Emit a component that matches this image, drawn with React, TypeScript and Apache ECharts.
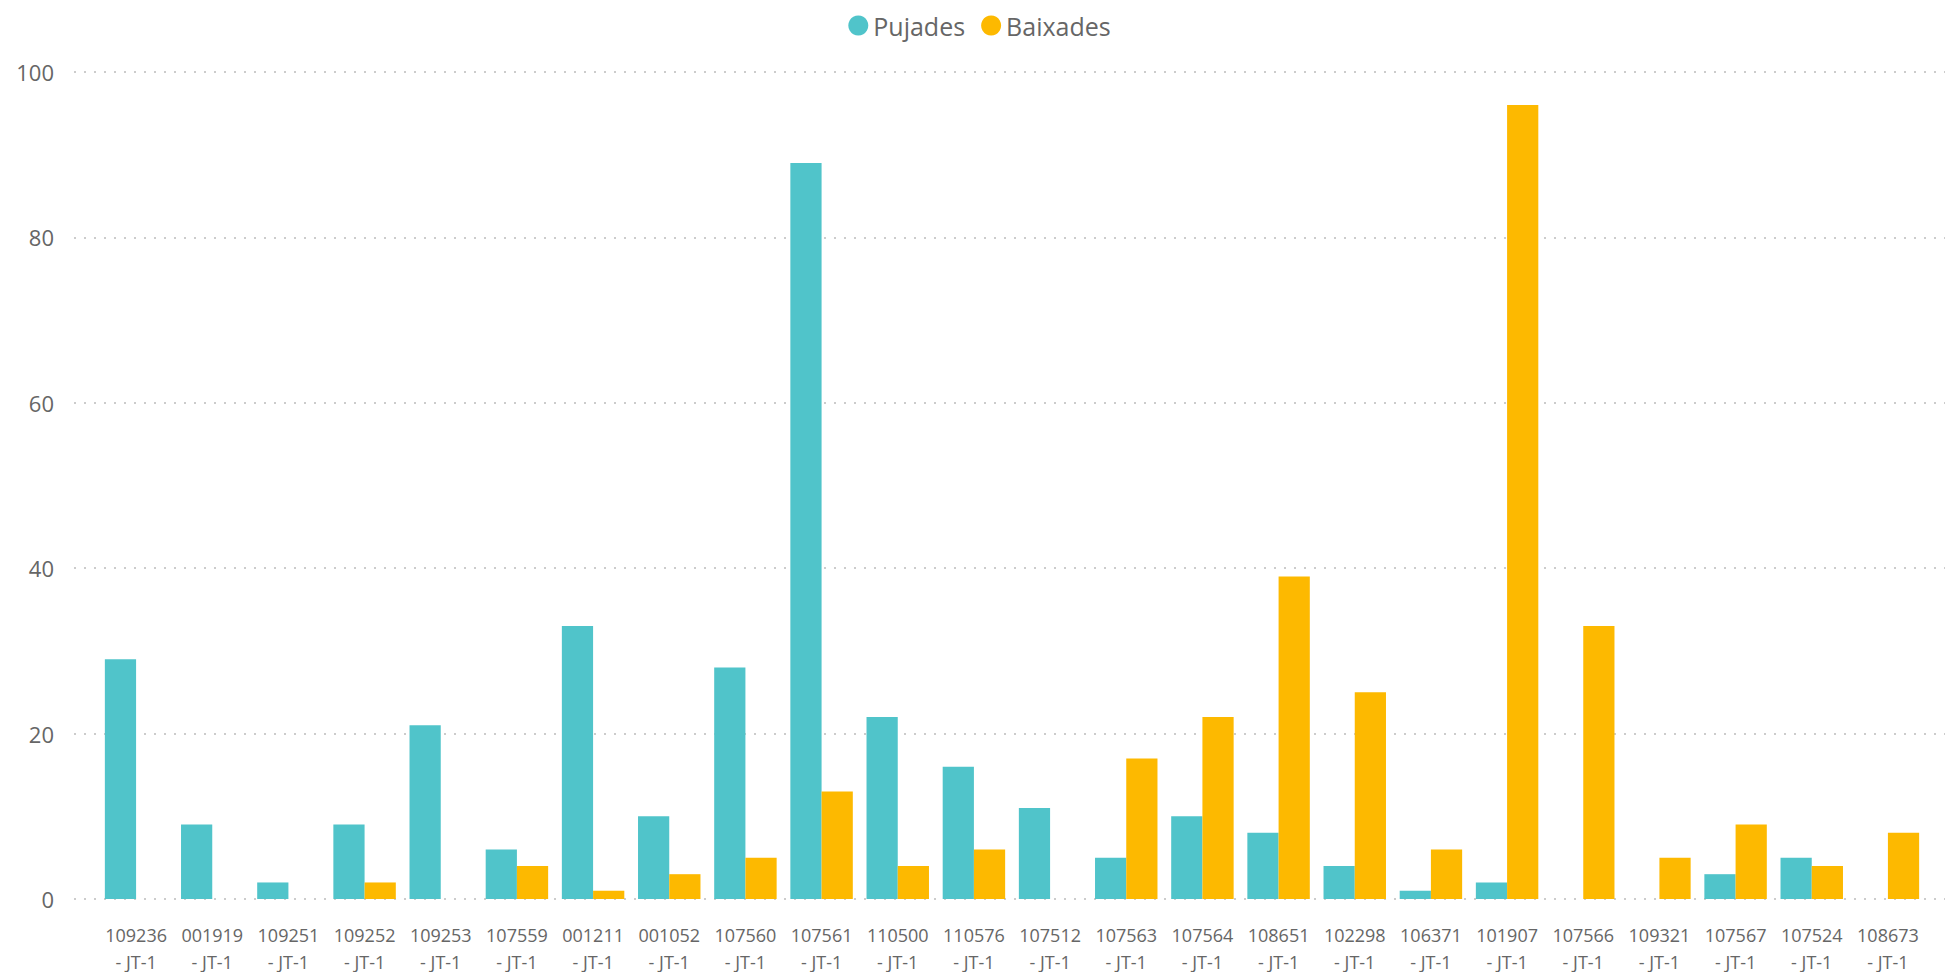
import React, { useEffect, useRef } from "react";
import * as echarts from "echarts";

const categories = [
  "109236", "001919", "109251", "109252", "109253", "107559", "001211", "001052",
  "107560", "107561", "110500", "110576", "107512", "107563", "107564", "108651",
  "102298", "106371", "101907", "107566", "109321", "107567", "107524", "108673",
];
const labelSuffix = "- JT-1";
const pujades = [29, 9, 2, 9, 21, 6, 33, 10, 28, 89, 22, 16, 11, 5, 10, 8, 4, 1, 2, 0, 0, 3, 5, 0];
const baixades = [0, 0, 0, 2, 0, 4, 1, 3, 5, 13, 4, 6, 0, 17, 22, 39, 25, 6, 96, 33, 5, 9, 4, 8];
const yTicks = { min: 0, max: 100, interval: 20 };

export default function App() {
  const ref = useRef<HTMLDivElement>(null);
  useEffect(() => {
    if (!ref.current) return;
    const chart = echarts.init(ref.current, undefined, { renderer: "svg" });
    const font = "'Open Sans', 'Noto Sans', sans-serif";
    chart.setOption({
      animation: false,
      backgroundColor: "#ffffff",
      textStyle: { fontFamily: font },
      legend: {
        top: 8,
        left: "center",
        icon: "circle",
        itemWidth: 20,
        itemHeight: 20,
        itemGap: 16,
        textStyle: { fontSize: 25, color: "#666666", fontFamily: font },
        data: ["Pujades", "Baixades"],
      },
      grid: [
        { left: 74, right: 14, top: 72, bottom: 73, containLabel: false, outerBoundsMode: "none" },
        { left: 98, right: 33, top: 72, bottom: 73, containLabel: false, outerBoundsMode: "none" },
      ],
      xAxis: [
        { gridIndex: 0, type: "value", min: 0, max: 1, show: false },
        {
          gridIndex: 1,
          type: "category",
          data: categories.map((c) => c + "\n" + labelSuffix),
          axisLine: { show: false },
          axisTick: { show: false },
          axisLabel: {
            interval: 0,
            margin: 22,
            fontSize: 18,
            lineHeight: 27,
            color: "#666666",
            fontFamily: font,
          },
        },
      ],
      yAxis: [
        {
          gridIndex: 0,
          type: "value",
          min: yTicks.min,
          max: yTicks.max,
          interval: yTicks.interval,
          axisLine: { show: false },
          axisTick: { show: false },
          axisLabel: { fontSize: 22, color: "#666666", margin: 20, fontFamily: font },
          splitLine: {
            show: true,
            lineStyle: { color: "#cccccc", width: 2, type: [2, 8] },
          },
        },
        {
          gridIndex: 1,
          type: "value",
          min: yTicks.min,
          max: yTicks.max,
          interval: yTicks.interval,
          show: false,
          splitLine: { show: false },
        },
      ],
      series: [
        {
          name: "Pujades",
          type: "bar",
          xAxisIndex: 1,
          yAxisIndex: 1,
          data: pujades,
          itemStyle: { color: "#50C4CA" },
          barGap: "0%",
          barCategoryGap: "18%",
        },
        {
          name: "Baixades",
          type: "bar",
          xAxisIndex: 1,
          yAxisIndex: 1,
          data: baixades,
          itemStyle: { color: "#FDB900" },
          barGap: "0%",
          barCategoryGap: "18%",
        },
      ],
    });
    return () => chart.dispose();
  }, []);
  return (
    <div
      ref={ref}
      style={{ position: "fixed", left: 0, top: 0, width: "1959px", height: "972px" }}
    />
  );
}
